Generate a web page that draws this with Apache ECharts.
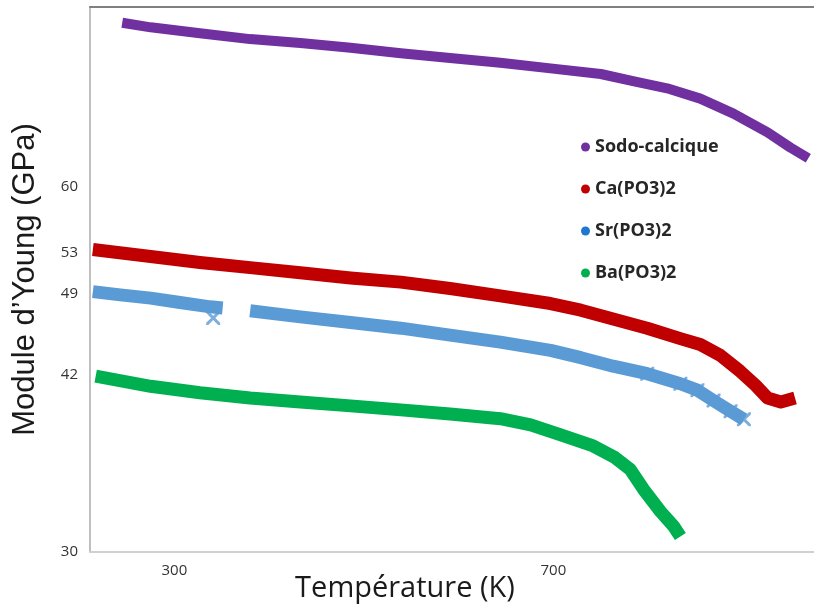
<!DOCTYPE html>
<html>
<head>
<meta charset="utf-8">
<script src="https://cdn.jsdelivr.net/npm/echarts@6/dist/echarts.min.js"></script>
<style>html,body{margin:0;padding:0;background:#fff}#c{width:814px;height:608px}</style>
</head>
<body>
<div id="c"></div>
<script>
// Temperature (K) and Young's modulus (GPa)
const sodoT = [245,275,327,380,433,486,539,591,644,697,750,784,820,855,890,926,950,969];
const sodoE = [82.0,81.3,80.4,79.5,78.9,78.2,77.4,76.7,76.0,75.2,74.4,73.4,72.4,71.0,69.0,66.6,64.7,63.4];

const caT = [214,275,327,380,433,486,539,591,644,697,729,763,799,834,855,876,897,913,926,940,955];
const caE = [53.3,52.6,52.0,51.5,51.0,50.5,50.1,49.5,48.8,48.1,47.5,46.7,45.9,45.0,44.5,43.6,42.3,41.2,40.2,39.9,40.2];

const srT1 = [214,243,275,306,338,351];
const srE1 = [49.2,48.9,48.6,48.2,47.8,47.7];
const srT2 = [380,433,486,539,591,644,697,729,763,799,834,852,869,887,901];
const srE2 = [47.45,46.9,46.4,45.9,45.3,44.7,44.0,43.4,42.7,42.1,41.3,40.8,40.0,39.2,38.6];
const srStrayT = [341];
const srStrayE = [46.8];

const baT = [217,275,327,380,433,486,539,591,644,676,707,742,765,781,795,813,827,834];
const baE = [41.9,41.1,40.6,40.2,39.9,39.6,39.3,39.0,38.65,38.2,37.5,36.7,35.9,35.1,33.8,32.4,31.5,30.9];

const xTicks = [300, 700];
const yTicks = [30, 42, 49, 53, 60];

const names = ['Sodo-calcique', 'Ca(PO3)2', 'Sr(PO3)2', 'Ba(PO3)2'];
const lineColors = ['#7030A0', '#C00000', '#5B9BD5', '#00B050'];
const legendColors = ['#7030A0', '#C00000', '#1F78CF', '#00B050'];

const zip = (a, b) => a.map((v, i) => [v, b[i]]);
const X = 'path://M0,0 L3,0 L10,7 L17,0 L20,0 L20,3 L13,10 L20,17 L20,20 L17,20 L10,13 L3,20 L0,20 L0,17 L7,10 L0,3 Z';

const chart = echarts.init(document.getElementById('c'));
const lineS = (name, data, color, w) => ({
  type: 'line', name, data, showSymbol: false, symbol: 'none',
  lineStyle: { color, width: w, cap: 'butt', join: 'round' },
  itemStyle: { color }, animation: false, z: 2
});

chart.setOption({
  animation: false,
  grid: { left: 90, right: 0, top: 7, bottom: 56, outerBoundsMode: 'none', containLabel: false },
  legend: {
    orient: 'vertical', left: 576, top: 133, itemGap: 24,
    icon: 'circle', itemWidth: 9, itemHeight: 9,
    textStyle: { fontFamily: 'Open Sans', fontWeight: 'bold', fontSize: 18, color: '#262626', lineHeight: 18 },
    data: names.map((n, i) => ({ name: n, itemStyle: { color: legendColors[i] } }))
  },
  xAxis: [{
    type: 'value', min: 211, max: 975,
    name: 'Température (K)', nameLocation: 'middle', nameGap: 22, nameMoveOverlap: false,
    nameTextStyle: { fontFamily: 'Open Sans', fontSize: 29, color: '#1a1a1a', lineHeight: 30, padding: [0, 94, 0, 0] },
    axisLine: { show: true, lineStyle: { color: '#D0D0D0', width: 2 } },
    axisTick: { show: false }, splitLine: { show: false },
    axisLabel: { customValues: xTicks, margin: 11, fontFamily: 'Open Sans', fontSize: 15, color: '#333' }
  }, {
    type: 'value', min: 211, max: 975, position: 'top',
    axisLine: { show: true, onZero: false, lineStyle: { color: '#808080', width: 2 } },
    axisTick: { show: false }, splitLine: { show: false }, axisLabel: { show: false }
  }],
  yAxis: {
    type: 'log', logBase: 10, min: 30, max: 84.5,
    name: 'Module d\u2019Young (GPa)', nameLocation: 'middle', nameGap: 49, nameMoveOverlap: false,
    nameTextStyle: { fontFamily: 'Liberation Sans', fontSize: 31, color: '#1a1a1a' },
    axisLine: { show: true, lineStyle: { color: '#BFBFBF', width: 2 } },
    axisTick: { show: false }, splitLine: { show: false }, minorSplitLine: { show: false },
    axisLabel: { customValues: yTicks, margin: 12, fontFamily: 'Open Sans', fontSize: 15, color: '#333' }
  },
  series: [
    lineS(names[0], zip(sodoT, sodoE), lineColors[0], 10),
    lineS(names[1], zip(caT, caE), lineColors[1], 13),
    lineS(names[2], zip(srT1, srE1), lineColors[2], 13),
    lineS(names[2], zip(srT2, srE2), lineColors[2], 13),
    {
      type: 'scatter', name: names[2],
      data: zip(srStrayT, srStrayE).concat(zip(srT2.slice(9), srE2.slice(9))),
      symbol: X, symbolSize: 14, itemStyle: { color: lineColors[2] }, z: 3
    },
    lineS(names[3], zip(baT, baE), lineColors[3], 13)
  ]
});
</script>
</body>
</html>
